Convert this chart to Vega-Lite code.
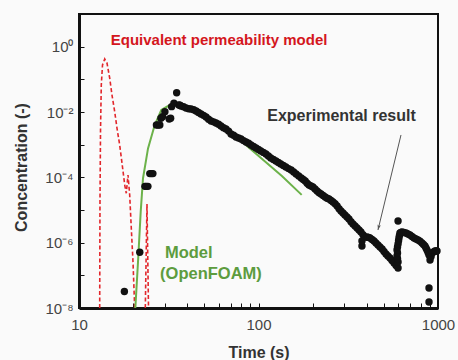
{
  "$schema": "https://vega.github.io/schema/vega-lite/v6.json",
  "width": 359,
  "height": 294,
  "autosize": "none",
  "padding": {"left": 79, "top": 14, "right": 20, "bottom": 52},
  "background": "#fafafa",
  "config": {
    "view": {"stroke": "#111", "strokeWidth": 2},
    "font": "Liberation Sans"
  },
  "encoding": {
    "x": {
      "field": "t", "type": "quantitative",
      "scale": {"type": "log", "domain": [10, 1000], "nice": false},
      "axis": {
        "values": [10, 20, 30, 40, 50, 60, 70, 80, 90, 100, 200, 300, 400, 500, 600, 700, 800, 900, 1000],
        "labelExpr": "(datum.value == 10 || datum.value == 100 || datum.value == 1000) ? format(datum.value, 'd') : ''",
        "grid": false, "tickSize": -5, "tickColor": "#111", "tickWidth": 1,
        "domainColor": "#111", "domainWidth": 3,
        "labelFontSize": 15, "labelColor": "#444", "labelPadding": 14,
        "labelFlush": false, "labelOverlap": false,
        "title": "Time (s)", "titleFontSize": 16, "titleFontWeight": "bold", "titleColor": "#333",
        "titleY": 44, "titleBaseline": "middle"
      }
    },
    "y": {
      "field": "c", "type": "quantitative",
      "scale": {"type": "log", "domain": [1e-8, 10], "nice": false},
      "axis": {
        "values": [1e-8, 1e-7, 1e-6, 1e-5, 1e-4, 1e-3, 1e-2, 1e-1, 1],
        "labelExpr": "round(log(datum.value)/LN10) == 0 ? '10⁰' : round(log(datum.value)/LN10) == -2 ? '10⁻²' : round(log(datum.value)/LN10) == -4 ? '10⁻⁴' : round(log(datum.value)/LN10) == -6 ? '10⁻⁶' : round(log(datum.value)/LN10) == -8 ? '10⁻⁸' : ''",
        "grid": false, "tickSize": -5, "tickColor": "#111", "tickWidth": 1,
        "domainColor": "#111", "domainWidth": 3,
        "labelFontSize": 15, "labelColor": "#444", "labelPadding": 11,
        "labelFlush": false, "labelOverlap": false,
        "title": "Concentration (-)", "titleFontSize": 16, "titleFontWeight": "bold", "titleColor": "#333",
        "titleX": -58, "titleY": 153, "titleBaseline": "middle", "titleAlign": "center"
      }
    }
  },
  "layer": [
    {
      "data": {"values": [
        {"seg": "a", "t": 13.04, "c": 1e-8},
        {"seg": "a", "t": 13.09, "c": 2.03e-5},
        {"seg": "a", "t": 13.18, "c": 2.8e-3},
        {"seg": "a", "t": 13.31, "c": 6.7e-2},
        {"seg": "a", "t": 13.52, "c": 0.275},
        {"seg": "a", "t": 13.91, "c": 0.42},
        {"seg": "a", "t": 14.32, "c": 0.316},
        {"seg": "a", "t": 14.83, "c": 0.108},
        {"seg": "a", "t": 15.27, "c": 3.3e-2},
        {"seg": "a", "t": 15.81, "c": 1.02e-2},
        {"seg": "a", "t": 16.28, "c": 3.2e-3},
        {"seg": "a", "t": 16.85, "c": 9.8e-4},
        {"seg": "a", "t": 17.36, "c": 2.75e-4},
        {"seg": "a", "t": 17.98, "c": 5.8e-5},
        {"seg": "a", "t": 18.34, "c": 3.25e-5},
        {"seg": "a", "t": 18.75, "c": 1.18e-4},
        {"seg": "a", "t": 19.16, "c": 2.9e-5},
        {"seg": "a", "t": 19.56, "c": 2.75e-6},
        {"seg": "a", "t": 19.99, "c": 2.6e-7},
        {"seg": "a", "t": 20.43, "c": 1e-8},
        {"seg": "b", "t": 23.41, "c": 1e-8},
        {"seg": "b", "t": 23.92, "c": 1.53e-5},
        {"seg": "b", "t": 24.39, "c": 1e-8}
      ]},
      "mark": {"type": "line", "color": "#e2262b", "strokeWidth": 1.6, "strokeDash": [4, 2.5], "clip": true},
      "encoding": {"detail": {"field": "seg"}}
    },
    {
      "data": {"values": [
        {"t": 20.6, "c": 1e-8},
        {"t": 21.32, "c": 2.6e-7},
        {"t": 22.07, "c": 8.9e-6},
        {"t": 22.73, "c": 9.4e-5},
        {"t": 24.24, "c": 7.7e-4},
        {"t": 26.41, "c": 4e-3},
        {"t": 28.74, "c": 1.15e-2},
        {"t": 31.5, "c": 1.55e-2},
        {"t": 34.5, "c": 1.65e-2},
        {"t": 40, "c": 1.3e-2},
        {"t": 50, "c": 8e-3},
        {"t": 65, "c": 3.5e-3},
        {"t": 104, "c": 3.8e-4},
        {"t": 135, "c": 1.1e-4},
        {"t": 174, "c": 2.9e-5}
      ]},
      "mark": {"type": "line", "color": "#6cb24a", "strokeWidth": 2, "clip": true},
      "encoding": {}
    },
    {
      "data": {"values": [
        {"t": 17.9, "c": 3.2e-8},
        {"t": 21.8, "c": 5.1e-7},
        {"t": 23.3, "c": 5.3e-5}, {"t": 23.7, "c": 5.3e-5}, {"t": 24.2, "c": 5.3e-5},
        {"t": 24.8, "c": 1.3e-4}, {"t": 25.3, "c": 1.3e-4}, {"t": 25.8, "c": 1.3e-4},
        {"t": 27.0, "c": 4e-3}, {"t": 27.6, "c": 4e-3}, {"t": 28.2, "c": 4e-3},
        {"t": 28.6, "c": 6.4e-3}, {"t": 29.2, "c": 7.2e-3},
        {"t": 30.1, "c": 1.02e-2},
        {"t": 31.8, "c": 6.1e-3}, {"t": 32.4, "c": 6.4e-3},
        {"t": 32.8, "c": 1.46e-2},
        {"t": 33.8, "c": 1.85e-2},
        {"t": 35.0, "c": 3.9e-2},
        {"t": 36.0, "c": 1.64e-2},
        {"t": 36.5, "c": 1.6e-2},
        {"t": 37.0, "c": 1.53e-2},
        {"t": 38.2, "c": 1.45e-2},
        {"t": 39.5, "c": 1.33e-2},
        {"t": 40.8, "c": 1.26e-2},
        {"t": 42.1, "c": 1.24e-2},
        {"t": 43.5, "c": 1.17e-2},
        {"t": 44.9, "c": 1.07e-2},
        {"t": 46.3, "c": 9.6e-3},
        {"t": 47.8, "c": 8.69e-3},
        {"t": 49.4, "c": 7.9e-3},
        {"t": 51.0, "c": 7.03e-3},
        {"t": 52.7, "c": 6.0e-3},
        {"t": 54.4, "c": 5.31e-3},
        {"t": 56.2, "c": 5.0e-3},
        {"t": 58.0, "c": 4.61e-3},
        {"t": 59.9, "c": 4.2e-3},
        {"t": 61.8, "c": 3.73e-3},
        {"t": 63.8, "c": 3.3e-3},
        {"t": 65.9, "c": 3.02e-3},
        {"t": 68.1, "c": 2.6e-3},
        {"t": 70.3, "c": 2.12e-3},
        {"t": 72.6, "c": 1.95e-3},
        {"t": 74.9, "c": 1.72e-3},
        {"t": 77.4, "c": 1.6e-3},
        {"t": 79.9, "c": 1.49e-3},
        {"t": 82.5, "c": 1.33e-3},
        {"t": 85.2, "c": 1.21e-3},
        {"t": 88.0, "c": 1.1e-3},
        {"t": 90.8, "c": 9.77e-4},
        {"t": 93.8, "c": 8.8e-4},
        {"t": 96.8, "c": 7.91e-4},
        {"t": 99.9, "c": 7.1e-4},
        {"t": 103, "c": 6.41e-4},
        {"t": 106.5, "c": 5.8e-4},
        {"t": 110, "c": 5.19e-4},
        {"t": 113.5, "c": 4.5e-4},
        {"t": 117, "c": 3.91e-4},
        {"t": 121, "c": 3.5e-4},
        {"t": 125, "c": 3.16e-4},
        {"t": 129, "c": 2.85e-4},
        {"t": 133, "c": 2.56e-4},
        {"t": 137.5, "c": 2.3e-4},
        {"t": 142, "c": 2.07e-4},
        {"t": 147, "c": 1.85e-4},
        {"t": 152, "c": 1.68e-4},
        {"t": 157, "c": 1.45e-4},
        {"t": 162, "c": 1.27e-4},
        {"t": 167.5, "c": 1.1e-4},
        {"t": 173, "c": 9.55e-5},
        {"t": 177.5, "c": 8.6e-5},
        {"t": 182, "c": 7.73e-5},
        {"t": 186.5, "c": 6.6e-5},
        {"t": 191, "c": 5.83e-5},
        {"t": 196, "c": 5.4e-5},
        {"t": 201, "c": 5.07e-5},
        {"t": 206.5, "c": 4.4e-5},
        {"t": 212, "c": 3.82e-5},
        {"t": 217.5, "c": 3.4e-5},
        {"t": 223, "c": 3.09e-5},
        {"t": 229, "c": 2.8e-5},
        {"t": 235, "c": 2.51e-5},
        {"t": 241, "c": 2.3e-5},
        {"t": 247, "c": 2.17e-5},
        {"t": 253.5, "c": 1.95e-5},
        {"t": 260, "c": 1.76e-5},
        {"t": 267, "c": 1.55e-5},
        {"t": 274, "c": 1.33e-5},
        {"t": 281, "c": 1.1e-5},
        {"t": 288, "c": 9.33e-6},
        {"t": 295.5, "c": 8.1e-6},
        {"t": 303, "c": 7.05e-6},
        {"t": 311, "c": 6.1e-6},
        {"t": 319, "c": 5.31e-6},
        {"t": 327.5, "c": 4.4e-6},
        {"t": 336, "c": 3.73e-6},
        {"t": 345, "c": 3.25e-6},
        {"t": 354, "c": 2.82e-6},
        {"t": 363, "c": 2.45e-6},
        {"t": 372, "c": 2.12e-6},
        {"t": 382, "c": 1.75e-6},
        {"t": 392, "c": 1.49e-6},
        {"t": 377, "c": 7.93e-7},
        {"t": 377, "c": 1.13e-6},
        {"t": 402, "c": 1.49e-6},
        {"t": 410, "c": 1.45e-6},
        {"t": 418, "c": 1.39e-6},
        {"t": 429, "c": 1.25e-6},
        {"t": 440, "c": 1.13e-6},
        {"t": 451, "c": 9.8e-7},
        {"t": 463, "c": 8.49e-7},
        {"t": 475, "c": 7.4e-7},
        {"t": 488, "c": 6.41e-7},
        {"t": 500, "c": 5.4e-7},
        {"t": 513, "c": 4.51e-7},
        {"t": 526, "c": 3.9e-7},
        {"t": 540, "c": 3.4e-7},
        {"t": 554, "c": 2.85e-7},
        {"t": 569, "c": 2.39e-7},
        {"t": 584, "c": 2.0e-7},
        {"t": 599, "c": 1.68e-7},
        {"t": 599, "c": 2.56e-7},
        {"t": 595, "c": 3.2e-7},
        {"t": 591, "c": 3.92e-7},
        {"t": 595, "c": 4.8e-7},
        {"t": 591, "c": 5.97e-7},
        {"t": 595, "c": 7.4e-7},
        {"t": 599, "c": 9.12e-7},
        {"t": 603, "c": 1.15e-6},
        {"t": 606, "c": 1.39e-6},
        {"t": 610, "c": 1.65e-6},
        {"t": 614, "c": 1.98e-6},
        {"t": 599, "c": 4.61e-6},
        {"t": 622, "c": 2.05e-6},
        {"t": 630, "c": 2.12e-6},
        {"t": 646, "c": 2.05e-6},
        {"t": 663, "c": 1.98e-6},
        {"t": 680, "c": 1.85e-6},
        {"t": 698, "c": 1.72e-6},
        {"t": 716, "c": 1.55e-6},
        {"t": 735, "c": 1.39e-6},
        {"t": 754, "c": 1.3e-6},
        {"t": 774, "c": 1.21e-6},
        {"t": 794, "c": 1.1e-6},
        {"t": 814, "c": 9.79e-7},
        {"t": 830, "c": 8.8e-7},
        {"t": 846, "c": 7.93e-7},
        {"t": 857, "c": 6.9e-7},
        {"t": 868, "c": 5.97e-7},
        {"t": 880, "c": 5.0e-7},
        {"t": 891, "c": 4.2e-7},
        {"t": 903, "c": 2.95e-7},
        {"t": 915, "c": 3.8e-7},
        {"t": 926, "c": 4.83e-7},
        {"t": 944, "c": 5.2e-7},
        {"t": 962, "c": 5.57e-7},
        {"t": 975, "c": 5.6e-7},
        {"t": 987, "c": 5.57e-7},
        {"t": 891, "c": 4.1e-8},
        {"t": 891, "c": 1.53e-8}
      ]},
      "mark": {"type": "circle", "color": "#111", "size": 55, "opacity": 1},
      "encoding": {}
    },
    {
      "data": {"values": [
        {"t": 622, "c": 1.98e-3},
        {"t": 463, "c": 2.44e-6}
      ]},
      "mark": {"type": "line", "color": "#555", "strokeWidth": 1},
      "encoding": {}
    },
    {
      "data": {"values": [{"t": 463, "c": 2.44e-6}]},
      "mark": {"type": "point", "shape": "M0,0L-0.55,-1.7L0,-1.3L0.55,-1.7Z", "filled": true, "color": "#555", "size": 40, "angle": 13.6, "opacity": 1},
      "encoding": {}
    },
    {
      "data": {"values": [{"t": 60.3, "c": 1.6, "label": "Equivalent permeability model"}]},
      "mark": {"type": "text", "color": "#d4161d", "fontSize": 15, "fontWeight": "bold", "align": "center", "baseline": "middle"},
      "encoding": {"text": {"field": "label"}}
    },
    {
      "data": {"values": [{"t": 290, "c": 7.55e-3, "label": "Experimental result"}]},
      "mark": {"type": "text", "color": "#333", "fontSize": 16, "fontWeight": "bold", "align": "center", "baseline": "middle"},
      "encoding": {"text": {"field": "label"}}
    },
    {
      "data": {"values": [
        {"t": 30.1, "c": 4.83e-7, "label": "Model"},
        {"t": 28.3, "c": 1.1e-7, "label": "(OpenFOAM)"}
      ]},
      "mark": {"type": "text", "color": "#5d9c3e", "fontSize": 16.5, "fontWeight": "bold", "align": "left", "baseline": "middle"},
      "encoding": {"text": {"field": "label"}}
    }
  ]
}
